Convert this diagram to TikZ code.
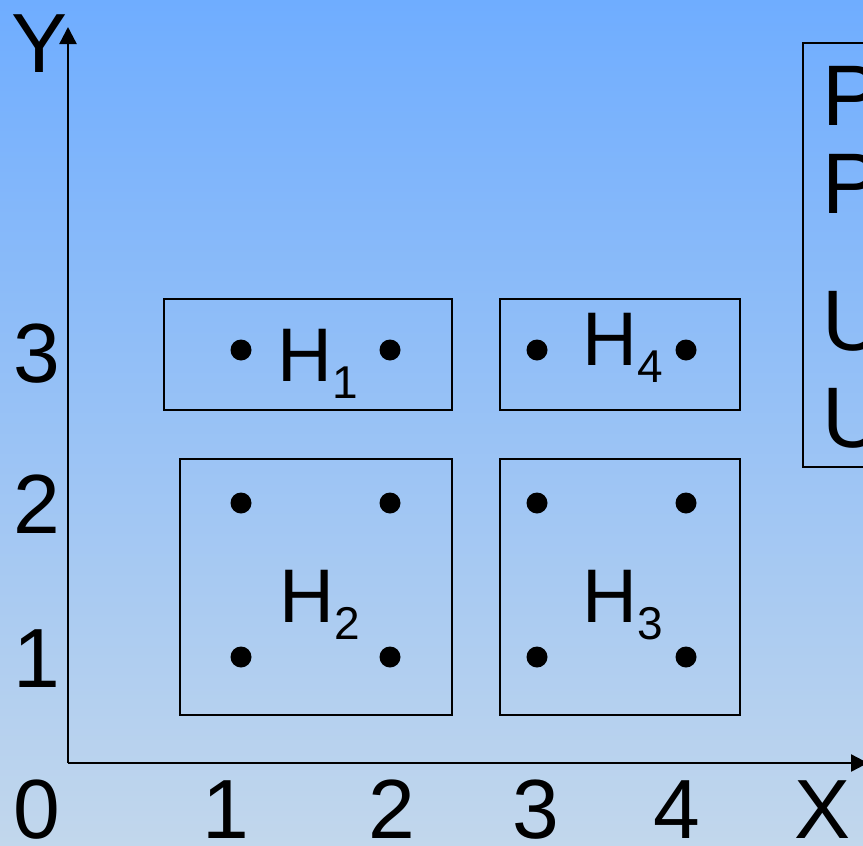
\documentclass[tikz,border=0pt]{standalone}
\usepackage{fontspec}
\setmainfont{Liberation Sans}
\usetikzlibrary{arrows.meta}
\definecolor{bgtop}{RGB}{111,173,255}
\definecolor{bgbot}{RGB}{194,215,236}
\tikzset{
  frame/.style={draw=black,line width=2.6pt},
  pt/.style={circle,fill=black,inner sep=0pt,minimum size=21pt},
  ticklbl/.style={inner sep=0pt,anchor=base,font=\fontsize{84}{90}\selectfont},
  hlbl/.style={inner sep=0pt,anchor=base west,font=\fontsize{76}{80}\selectfont},
  sidelbl/.style={inner sep=0pt,anchor=base west,font=\fontsize{86}{90}\selectfont},
  axis/.style={line width=2.4pt,-{Triangle[length=17pt,width=17pt]}}
}
\newcommand{\subdig}[1]{\raisebox{-17.5pt}{\fontsize{46}{50}\selectfont #1}}
\begin{document}
\begin{tikzpicture}[x=1pt,y=-1pt]
\useasboundingbox (0,0) rectangle (863,846);
\clip (0,0) rectangle (863,846);
\shade[top color=bgtop,bottom color=bgbot] (0,0) rectangle (863,846);
% boxes
\draw[frame] (164,299) rectangle (452,410);
\draw[frame] (500,299) rectangle (740,410);
\draw[frame] (180,459) rectangle (452,715);
\draw[frame] (500,459) rectangle (740,715);
\draw[frame] (803,43) rectangle (900,467);
% axes
\coordinate (O) at (68,763);
\coordinate (Ytip) at (68,27);
\coordinate (Xtip) at (868,763);
\draw[axis] (O) -- (Ytip);
\draw[axis] (O) -- (Xtip);
% dots
\foreach \x/\n in {241/a,390/b,537/c,686/d}{
  \foreach \y/\m in {350/r,503/s,657/t}{
    \node[pt] (p\n\m) at (\x,\y) {};
  }
}
% H labels
\node[hlbl] (h1) at (277,381) {H\subdig{1}};
\node[hlbl] (h4) at (582,365) {H\subdig{4}};
\node[hlbl] (h2) at (279,622) {H\subdig{2}};
\node[hlbl] (h3) at (582,622) {H\subdig{3}};
% tick labels
\node[ticklbl] (x0) at (37,838) {0};
\node[ticklbl] (x1) at (226,838) {1};
\node[ticklbl] (x2) at (392,838) {2};
\node[ticklbl] (x3) at (536,838) {3};
\node[ticklbl] (x4) at (677,838) {4};
\node[ticklbl] (xl) at (823,838) {X};
\node[ticklbl] (y1) at (37,687) {1};
\node[ticklbl] (y2) at (37,533) {2};
\node[ticklbl] (y3) at (37,382) {3};
\node[ticklbl] (yl) at (40,72) {Y};
% side panel
\node[sidelbl] (s1) at (822,125) {P};
\node[sidelbl] (s2) at (822,213) {P};
\node[sidelbl] (s3) at (822,350) {U};
\node[sidelbl] (s4) at (822,447) {U};
\end{tikzpicture}
\end{document}
